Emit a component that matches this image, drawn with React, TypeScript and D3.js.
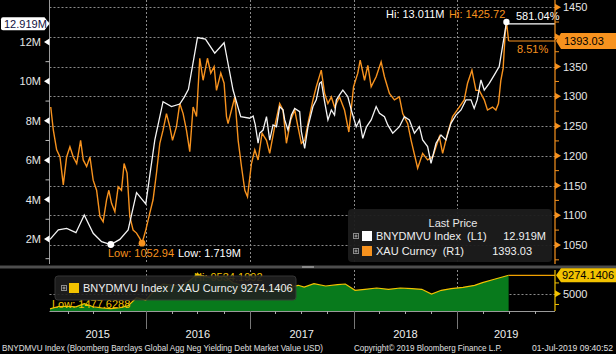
import React, { useEffect, useRef } from 'react';
import * as d3 from 'd3';

// [decimal year, value in millions]
const bnyIndex: [number, number][] = [
  [2015.077, 1.98], [2015.157, 2.46], [2015.238, 2.54], [2015.327, 2.32], [2015.407, 3.22],
  [2015.493, 2.29], [2015.574, 1.86], [2015.663, 1.719], [2015.75, 1.98], [2015.83, 2.46],
  [2015.911, 4.35], [2016.0, 3.78], [2016.087, 7.03], [2016.166, 8.97], [2016.247, 8.72],
  [2016.327, 8.85], [2016.37, 9.2], [2016.41, 9.6], [2016.497, 12.22], [2016.574, 12.14],
  [2016.663, 11.43], [2016.753, 11.96], [2016.839, 9.56], [2016.913, 8.21], [2017.0, 8.13],
  [2017.032, 8.24], [2017.053, 7.79], [2017.08, 6.86], [2017.096, 7.38], [2017.128, 7.53],
  [2017.161, 8.21], [2017.192, 7.02], [2017.224, 7.79], [2017.257, 7.7], [2017.288, 8.72],
  [2017.32, 8.55], [2017.337, 8.04], [2017.368, 7.53], [2017.401, 8.29], [2017.433, 8.63],
  [2017.481, 8.46], [2017.497, 7.45], [2017.529, 6.6], [2017.561, 7.7], [2017.609, 8.72],
  [2017.641, 9.06], [2017.673, 9.9], [2017.69, 9.97], [2017.721, 8.97], [2017.753, 8.04],
  [2017.786, 8.55], [2017.817, 8.29], [2017.834, 9.06], [2017.865, 9.31], [2017.897, 9.56],
  [2017.945, 9.22], [2017.978, 8.55], [2018.026, 7.7], [2018.058, 8.04], [2018.089, 7.11],
  [2018.125, 7.69], [2018.17, 8.04], [2018.218, 8.72], [2018.25, 8.38], [2018.298, 8.21],
  [2018.33, 7.79], [2018.378, 7.37], [2018.442, 7.7], [2018.49, 8.21], [2018.538, 8.04],
  [2018.587, 7.37], [2018.635, 7.7], [2018.666, 7.03], [2018.714, 6.69], [2018.747, 5.84],
  [2018.795, 6.86], [2018.843, 7.28], [2018.891, 7.03], [2018.939, 7.87], [2018.987, 8.29],
  [2019.036, 8.55], [2019.084, 9.06], [2019.132, 9.06], [2019.163, 8.63], [2019.192, 9.06],
  [2019.228, 10.07], [2019.26, 9.56], [2019.308, 9.9], [2019.356, 10.32], [2019.404, 10.75],
  [2019.436, 11.76], [2019.452, 12.27], [2019.474, 13.011], [2019.495, 12.919],
];

// [decimal year, USD per oz]
const xauGold: [number, number][] = [
  [2015.084, 1282], [2015.109, 1243], [2015.141, 1210], [2015.173, 1198], [2015.205, 1151],
  [2015.237, 1198], [2015.269, 1215], [2015.301, 1198], [2015.334, 1187], [2015.372, 1226],
  [2015.397, 1193], [2015.43, 1182], [2015.462, 1198], [2015.493, 1159], [2015.526, 1142],
  [2015.558, 1098], [2015.589, 1089], [2015.622, 1126], [2015.644, 1142], [2015.67, 1120],
  [2015.702, 1106], [2015.734, 1148], [2015.766, 1142], [2015.791, 1187], [2015.82, 1171],
  [2015.846, 1098], [2015.878, 1075], [2015.911, 1070], [2015.942, 1061], [2015.964, 1052.94],
  [2016.0, 1075], [2016.038, 1103], [2016.07, 1126], [2016.103, 1171], [2016.135, 1221],
  [2016.166, 1243], [2016.199, 1271], [2016.231, 1249], [2016.257, 1226], [2016.295, 1249],
  [2016.327, 1288], [2016.359, 1271], [2016.391, 1243], [2016.423, 1207], [2016.455, 1282],
  [2016.488, 1266], [2016.519, 1364], [2016.551, 1327], [2016.593, 1364], [2016.625, 1339],
  [2016.657, 1350], [2016.68, 1310], [2016.721, 1339], [2016.753, 1322], [2016.776, 1266],
  [2016.791, 1254], [2016.824, 1277], [2016.856, 1299], [2016.888, 1226], [2016.92, 1182],
  [2016.952, 1142], [2016.978, 1131], [2017.016, 1187], [2017.048, 1210], [2017.08, 1193],
  [2017.118, 1238], [2017.161, 1226], [2017.192, 1204], [2017.24, 1249], [2017.288, 1288],
  [2017.32, 1277], [2017.353, 1221], [2017.394, 1260], [2017.433, 1277], [2017.464, 1249],
  [2017.497, 1221], [2017.529, 1226], [2017.567, 1260], [2017.609, 1294], [2017.641, 1316],
  [2017.689, 1344], [2017.721, 1305], [2017.753, 1288], [2017.786, 1299], [2017.817, 1282],
  [2017.865, 1299], [2017.913, 1277], [2017.955, 1240], [2018.0, 1316], [2018.041, 1339],
  [2018.064, 1361], [2018.106, 1327], [2018.138, 1352], [2018.17, 1316], [2018.218, 1333],
  [2018.266, 1358], [2018.298, 1333], [2018.346, 1305], [2018.394, 1294], [2018.442, 1299],
  [2018.474, 1271], [2018.522, 1254], [2018.555, 1226], [2018.618, 1179], [2018.666, 1204],
  [2018.714, 1193], [2018.763, 1198], [2018.827, 1232], [2018.859, 1204], [2018.907, 1238],
  [2018.955, 1266], [2019.019, 1282], [2019.067, 1294], [2019.099, 1322], [2019.141, 1344],
  [2019.18, 1310], [2019.212, 1310], [2019.26, 1294], [2019.291, 1277], [2019.34, 1282],
  [2019.372, 1277], [2019.397, 1288], [2019.42, 1327], [2019.442, 1347], [2019.462, 1406],
  [2019.474, 1425.72], [2019.495, 1393.03],
];

// BNYDMVU Index / XAU Curncy
const ratio: [number, number][] = [
  [2015.077, 1477.6288], [2015.157, 2030], [2015.238, 2090], [2015.327, 1950], [2015.407, 2700],
  [2015.493, 1970], [2015.574, 1710], [2015.663, 1540], [2015.75, 1740], [2015.83, 2240],
  [2015.911, 4060], [2016.0, 3520], [2016.087, 5860], [2016.166, 7230], [2016.247, 6980],
  [2016.327, 6850], [2016.407, 7720], [2016.497, 9534.1992], [2016.574, 8900], [2016.663, 8530],
  [2016.753, 9060], [2016.839, 7530], [2016.913, 7020], [2017.0, 7070], [2017.1, 5980],
  [2017.2, 5810], [2017.29, 6770], [2017.37, 6150], [2017.43, 6760], [2017.467, 6950],
  [2017.524, 6554], [2017.618, 7320], [2017.731, 6786], [2017.846, 7088], [2017.921, 7250],
  [2018.015, 5789], [2018.11, 6020], [2018.223, 6322], [2018.337, 6020], [2018.45, 6322],
  [2018.563, 6160], [2018.658, 6020], [2018.752, 4930], [2018.846, 5789], [2018.941, 6160],
  [2019.055, 6485], [2019.167, 6950], [2019.243, 7552], [2019.357, 8341], [2019.47, 9100],
  [2019.495, 9274.1406],
];

const leftTicks = [2, 4, 6, 8, 10, 12];
const leftMinor = [1, 3, 5, 7, 9, 11, 13];
const rightTicks = [1050, 1100, 1150, 1200, 1250, 1300, 1350, 1400, 1450];
const rightMinor = [1025, 1075, 1125, 1175, 1225, 1275, 1325, 1375, 1425];
const years = [2015, 2016, 2017, 2018, 2019];
const pctChange = ['581.04%', '8.51%'];

const FONT = '"Liberation Sans", Arial, sans-serif';
const ORANGE = '#f7921e';
const YELLOW = '#f2c200';

const toDate = (t: number) => {
  const y = Math.floor(t);
  const a = Date.UTC(y, 0, 1);
  const b = Date.UTC(y + 1, 0, 1);
  return new Date(a + (t - y) * (b - a));
};

const ChartCanvas = () => {
  const ref = useRef<SVGSVGElement>(null);

  useEffect(() => {
    const svg = d3.select(ref.current).attr('width', 616).attr('height', 354);
    svg.selectAll('*').remove();

    const plotL = 49.5, plotR = 555, mainBot = 264, lowTop = 270, lowBot = 311;

    const x = d3.scaleUtc().domain([toDate(2015.072), toDate(2019.942)]).range([plotL, plotR]);
    const yL = d3.scaleLinear().domain([0.73, 14.13]).range([mainBot, 0]);
    const yR = d3.scaleLinear().domain([1018, 1462]).range([mainBot, 0]);
    const yQ = d3.scaleLinear().domain([986, 10498]).range([lowBot, lowTop]);

    svg.append('rect').attr('width', 616).attr('height', 354).attr('fill', '#000');

    const defs = svg.append('defs');
    defs.append('clipPath').attr('id', 'mainClip')
      .append('rect').attr('x', plotL).attr('y', 0).attr('width', plotR - plotL).attr('height', mainBot);

    const text = (g: any, tx: number, ty: number, s: string, fill: string, size = 11, anchor = 'start') =>
      g.append('text').attr('x', tx).attr('y', ty).attr('fill', fill).attr('font-size', size)
        .attr('font-family', FONT).attr('text-anchor', anchor).text(s);

    // grid
    const grid = svg.append('g').attr('stroke', '#8a8a8a').attr('stroke-dasharray', '2,2').attr('stroke-width', 1);
    rightTicks.forEach(v => {
      grid.append('line').attr('x1', plotL).attr('x2', plotR).attr('y1', Math.round(yR(v)) + 0.5).attr('y2', Math.round(yR(v)) + 0.5);
    });
    years.slice(1).forEach(yr => {
      const xx = Math.round(x(toDate(yr))) + 0.5;
      grid.append('line').attr('x1', xx).attr('x2', xx).attr('y1', 0).attr('y2', mainBot);
      grid.append('line').attr('x1', xx).attr('x2', xx).attr('y1', lowTop).attr('y2', lowBot);
    });
    grid.append('line').attr('x1', plotL).attr('x2', plotR).attr('y1', Math.round(yQ(5000)) + 0.5).attr('y2', Math.round(yQ(5000)) + 0.5);

    // series
    const main = svg.append('g').attr('clip-path', 'url(#mainClip)');
    const lineL = d3.line<[number, number]>().x(d => x(toDate(d[0]))).y(d => yL(d[1]));
    const lineR = d3.line<[number, number]>().x(d => x(toDate(d[0]))).y(d => yR(d[1]));
    main.append('path').datum(xauGold).attr('d', lineR).attr('fill', 'none').attr('stroke', ORANGE).attr('stroke-width', 1.4);
    main.append('path').datum(bnyIndex).attr('d', lineL).attr('fill', 'none').attr('stroke', '#f4f4f4').attr('stroke-width', 1.3);

    const lastB = bnyIndex[bnyIndex.length - 1];
    const lastG = xauGold[xauGold.length - 1];
    const hiB = bnyIndex.reduce((a, b) => (b[1] > a[1] ? b : a));
    const hiG = xauGold.reduce((a, b) => (b[1] > a[1] ? b : a));
    const loB = bnyIndex.reduce((a, b) => (b[1] < a[1] ? b : a));
    const loG = xauGold.reduce((a, b) => (b[1] < a[1] ? b : a));

    // last-value lines
    svg.append('line').attr('x1', x(toDate(lastB[0]))).attr('x2', plotR).attr('y1', yL(lastB[1])).attr('y2', yL(lastB[1]))
      .attr('stroke', '#fff').attr('stroke-width', 1.2);
    svg.append('line').attr('x1', x(toDate(lastG[0]))).attr('x2', plotR).attr('y1', yR(lastG[1])).attr('y2', yR(lastG[1]))
      .attr('stroke', ORANGE).attr('stroke-width', 1.2);

    // markers
    svg.append('circle').attr('cx', x(toDate(loB[0]))).attr('cy', yL(loB[1])).attr('r', 3.4).attr('fill', '#fff');
    svg.append('circle').attr('cx', x(toDate(loG[0]))).attr('cy', yR(loG[1])).attr('r', 3.4).attr('fill', ORANGE);
    svg.append('circle').attr('cx', x(toDate(hiB[0]))).attr('cy', yL(hiB[1])).attr('r', 3.2).attr('fill', '#fff');

    const ann = svg.append('g');
    text(ann, 108, 257, `Low: ${loG[1].toFixed(2)}`, ORANGE);
    text(ann, 178, 257, `Low: ${loB[1].toFixed(3)}M`, '#fff');
    text(ann, 386, 18, `Hi: ${hiB[1].toFixed(3)}M`, '#fff');
    text(ann, 449, 18, `Hi: ${hiG[1].toFixed(2)}`, ORANGE);
    text(ann, 516, 20, pctChange[0], '#fff');
    text(ann, 517, 53, pctChange[1], ORANGE);

    // left axis
    const axL = svg.append('g');
    axL.append('line').attr('x1', plotL).attr('x2', plotL).attr('y1', 0).attr('y2', mainBot).attr('stroke', '#9a9a9a');
    leftMinor.forEach(v => {
      axL.append('line').attr('x1', plotL - 4).attr('x2', plotL).attr('y1', yL(v)).attr('y2', yL(v)).attr('stroke', '#bbb');
    });
    leftTicks.forEach(v => {
      const yy = yL(v);
      axL.append('path').attr('d', `M${plotL},${yy - 3.5}L${plotL - 5.5},${yy}L${plotL},${yy + 3.5}Z`).attr('fill', '#fff');
      text(axL, 41, yy + 4, `${v}M`, '#e6e6e6', 11, 'end');
    });

    // right axis
    const cyG = yR(lastG[1]);
    const axR = svg.append('g');
    axR.append('line').attr('x1', plotR).attr('x2', plotR).attr('y1', 0).attr('y2', mainBot).attr('stroke', ORANGE).attr('stroke-width', 1.2);
    rightMinor.forEach(v => {
      axR.append('line').attr('x1', plotR).attr('x2', plotR + 4).attr('y1', yR(v)).attr('y2', yR(v)).attr('stroke', ORANGE);
    });
    rightTicks.forEach(v => {
      const yy = yR(v);
      axR.append('path').attr('d', `M${plotR},${yy - 3.5}L${plotR + 6},${yy}L${plotR},${yy + 3.5}Z`).attr('fill', ORANGE);
      // label hidden behind the last-price callout
      if (Math.abs(yy - cyG) > 10) text(axR, 563, yy + 4, `${v}`, '#e6e6e6', 11);
    });

    // callouts
    const cyB = yL(lastB[1]);
    svg.append('path').attr('d', `M${plotL},${cyB}L${plotL - 5},${cyB - 6.5}H3Q1,${cyB - 6.5} 1,${cyB - 4.5}V${cyB + 4.5}Q1,${cyB + 6.5} 3,${cyB + 6.5}H${plotL - 5}Z`).attr('fill', '#fff');
    text(svg, 4, cyB + 4, `${lastB[1].toFixed(3)}M`, '#101040', 11);
    svg.append('path').attr('d', `M${plotR + 1},${cyG}L${plotR + 6},${cyG - 8}H616V${cyG + 8}H${plotR + 6}Z`).attr('fill', ORANGE);
    text(svg, 564, cyG + 4, `${lastG[1].toFixed(2)}`, '#000', 11);

    // legend (main)
    const lg = svg.append('g');
    lg.append('rect').attr('x', 348).attr('y', 209).attr('width', 204).attr('height', 53).attr('rx', 4)
      .attr('fill', '#1c1c1c').attr('opacity', 0.95);
    text(lg, 453, 227, 'Last Price', '#e8e8e8', 11, 'middle');
    const plusBox = (g: any, px: number, py: number) => {
      g.append('rect').attr('x', px + 0.5).attr('y', py + 0.5).attr('width', 5).attr('height', 5).attr('fill', 'none').attr('stroke', '#8a8a8a');
      g.append('path').attr('d', `M${px + 1.5},${py + 3}H${px + 4.5}M${px + 3},${py + 1.5}V${py + 4.5}`).attr('stroke', '#aaa');
    };
    plusBox(lg, 353, 233);
    plusBox(lg, 353, 248);
    lg.append('rect').attr('x', 362).attr('y', 231).attr('width', 10).attr('height', 10).attr('fill', '#fff');
    lg.append('rect').attr('x', 362).attr('y', 246).attr('width', 10).attr('height', 10).attr('fill', ORANGE);
    text(lg, 376, 240, 'BNYDMVU Index  (L1)', '#f0f0f0', 11).attr('xml:space', 'preserve');
    text(lg, 376, 255, 'XAU Curncy  (R1)', '#f0f0f0', 11).attr('xml:space', 'preserve');
    text(lg, 546, 240, `${lastB[1].toFixed(3)}M`, '#f0f0f0', 11, 'end');
    text(lg, 532, 255, `${lastG[1].toFixed(2)}`, '#f0f0f0', 11, 'end');

    // separator
    svg.append('rect').attr('x', 0).attr('y', 265.5).attr('width', 616).attr('height', 3).attr('fill', '#4d4d4d');
    svg.append('rect').attr('x', 302).attr('y', 266).attr('width', 12).attr('height', 2).attr('fill', '#8a8a8a');

    // lower panel
    const area = d3.area<[number, number]>().x(d => x(toDate(d[0]))).y0(lowBot).y1(d => yQ(d[1]));
    const lineQ = d3.line<[number, number]>().x(d => x(toDate(d[0]))).y(d => yQ(d[1]));
    svg.append('path').datum(ratio).attr('d', area).attr('fill', '#087a1c');
    svg.append('path').datum(ratio).attr('d', lineQ).attr('fill', 'none').attr('stroke', YELLOW).attr('stroke-width', 1.2);
    const lastQ = ratio[ratio.length - 1];
    const hiQ = ratio.reduce((a, b) => (b[1] > a[1] ? b : a));
    const loQ = ratio.reduce((a, b) => (b[1] < a[1] ? b : a));
    svg.append('line').attr('x1', x(toDate(lastQ[0]))).attr('x2', plotR).attr('y1', yQ(lastQ[1])).attr('y2', yQ(lastQ[1]))
      .attr('stroke', '#f0a000').attr('stroke-width', 1.2);
    const hx = x(toDate(hiQ[0])), hy = yQ(hiQ[1]);
    svg.append('path').attr('d', `M${hx - 3},${hy + 2}L${hx},${hy - 2}L${hx + 3},${hy + 2}Z`).attr('fill', YELLOW);
    text(svg, 194, 281, `Hi: ${hiQ[1].toFixed(4)}`, YELLOW, 11);
    text(svg, 52, 308, `Low: ${loQ[1].toFixed(4)}`, YELLOW, 11);

    const lg2 = svg.append('g');
    lg2.append('rect').attr('x', 55).attr('y', 276).attr('width', 241).attr('height', 24).attr('rx', 3)
      .attr('fill', '#202020').attr('stroke', '#3a3a3a').attr('opacity', 0.9);
    plusBox(lg2, 61, 285);
    lg2.append('rect').attr('x', 69).attr('y', 283).attr('width', 10).attr('height', 10).attr('fill', YELLOW);
    text(lg2, 83, 292, `BNYDMVU Index / XAU Curncy ${lastQ[1].toFixed(4)}`, '#f0f0f0', 11);

    // lower right axis
    svg.append('line').attr('x1', plotR).attr('x2', plotR).attr('y1', lowTop).attr('y2', lowBot).attr('stroke', YELLOW).attr('stroke-width', 1.2);
    [2500, 7500].forEach(v => {
      svg.append('line').attr('x1', plotR).attr('x2', plotR + 4).attr('y1', yQ(v)).attr('y2', yQ(v)).attr('stroke', YELLOW);
    });
    const y5 = yQ(5000);
    svg.append('path').attr('d', `M${plotR},${y5 - 3.5}L${plotR + 6},${y5}L${plotR},${y5 + 3.5}Z`).attr('fill', YELLOW);
    text(svg, 563, y5 + 4, '5000', '#e6e6e6', 11);
    const cyQ = yQ(lastQ[1]);
    svg.append('path').attr('d', `M${plotR + 1},${cyQ}L${plotR + 6},${cyQ - 7}H616V${cyQ + 7}H${plotR + 6}Z`).attr('fill', YELLOW);
    text(svg, 562, cyQ + 4, `${lastQ[1].toFixed(4)}`, '#000', 11);

    // x axis
    const axX = svg.append('g');
    axX.append('line').attr('x1', plotL).attr('x2', plotR).attr('y1', lowBot + 0.5).attr('y2', lowBot + 0.5).attr('stroke', '#9a9a9a');
    const quarters = d3.utcMonth.every(3)!.range(x.domain()[0], x.domain()[1]);
    quarters.forEach(q => {
      const xx = Math.round(x(q)) + 0.5;
      const isYear = q.getUTCMonth() === 0;
      axX.append('line').attr('x1', xx).attr('x2', xx).attr('y1', lowBot).attr('y2', isYear ? 329 : lowBot + 3)
        .attr('stroke', isYear ? '#777' : '#aaa');
    });
    years.forEach(yr => {
      const a = Math.max(x(toDate(yr)), plotL);
      const b = Math.min(x(toDate(yr + 1)), plotR);
      text(axX, (a + b) / 2, 338, `${yr}`, '#eeeeee', 11, 'middle');
    });

    // footer
    text(svg, 2, 351, 'BNYDMVU Index (Bloomberg Barclays Global Agg Neg Yielding Debt Market Value USD)', '#e0e0e0', 9)
      .attr('textLength', 321).attr('lengthAdjust', 'spacingAndGlyphs');
    text(svg, 354, 351, 'Copyright\u00a9 2019 Bloomberg Finance L.P.', '#e0e0e0', 9)
      .attr('textLength', 148).attr('lengthAdjust', 'spacingAndGlyphs');
    text(svg, 532, 351, '01-Jul-2019 09:40:52', '#e0e0e0', 9)
      .attr('textLength', 81).attr('lengthAdjust', 'spacingAndGlyphs');
  }, []);

  return <svg ref={ref} style={{ position: 'absolute', left: 0, top: 0, display: 'block' }}></svg>;
};

export default function App() {
  return <ChartCanvas />;
}
